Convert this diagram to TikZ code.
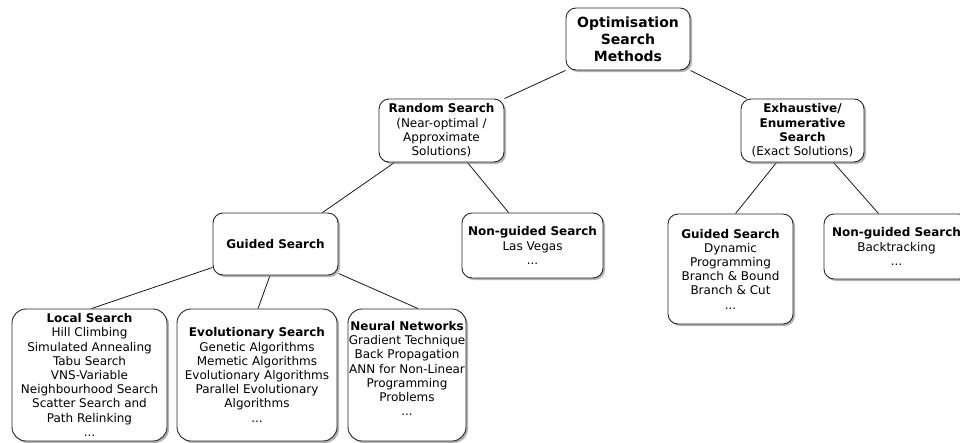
\documentclass[tikz,border=0pt]{standalone}
\usepackage{fontspec}
\setmainfont{DejaVu Sans}
\usetikzlibrary{shadows,calc,backgrounds}
\begin{document}
\begin{tikzpicture}[x=1pt,y=-1pt,
  box/.style={draw=black!85, line width=0.9pt, rounded corners=10pt, fill=white,
    align=center, inner sep=0pt, font=\fontsize{12}{14.2}\selectfont,
    drop shadow={shadow xshift=2pt, shadow yshift=-2pt, fill=black!50, opacity=0.6}},
  bigbox/.style={box, rounded corners=14pt},
  boxtext/.style={align=center, inner sep=0pt, font=\fontsize{12}{14.2}\selectfont},
  link/.style={draw=black!90, line width=0.8pt}]
\useasboundingbox (0,0) rectangle (960,442);

\node[box, minimum width=124pt, minimum height=62pt, font=\fontsize{14}{17}\selectfont\bfseries] (root) at (628,39) {Optimisation\\Search\\Methods};
\node[box, minimum width=125pt, minimum height=63pt] (rs) at (441.5,130.5) {\textbf{Random Search}\\(Near-optimal /\\Approximate\\Solutions)};
\node[box, minimum width=123pt, minimum height=63pt] (exh) at (802.5,130.5) {\textbf{Exhaustive/}\\\textbf{Enumerative}\\\textbf{Search}\\(Exact Solutions)};
\node[box, minimum width=125pt, minimum height=62pt] (gl) at (275.5,244) {\textbf{Guided Search}};
\node[box, minimum width=141pt, minimum height=65pt] (lv) at (532.5,245.5) {\textbf{Non-guided Search}\\Las Vegas\\...};
\node[box, minimum width=125pt, minimum height=110pt] (gr) at (730.5,269) {\textbf{Guided Search}\\Dynamic\\Programming\\Branch \& Bound\\Branch \& Cut\\...};
\node[box, minimum width=145pt, minimum height=65pt] (ng) at (896.5,246.5) {\textbf{Non-guided Search}\\Backtracking\\...};
\node[bigbox, minimum width=155pt, minimum height=132pt] (ls) at (89.5,375) {\textbf{Local Search}\\Hill Climbing\\Simulated Annealing\\Tabu Search\\VNS-Variable\\Neighbourhood Search\\Scatter Search and\\Path Relinking\\...};
\node[bigbox, minimum width=160pt, minimum height=132pt] (ev) at (257,375) {\textbf{Evolutionary Search}\\Genetic Algorithms\\Memetic Algorithms\\Evolutionary Algorithms\\Parallel Evolutionary\\Algorithms\\...};
\node[bigbox, minimum width=118pt, minimum height=132pt] (nn) at (407,375) {};
\node[boxtext] (nnt) at (407,368.5) {\textbf{Neural Networks}\\Gradient Technique\\Back Propagation\\ANN for Non-Linear\\Programming\\Problems\\...};

\begin{scope}[on background layer]
\draw[link] (root.south west) -- (rs.north east);
\draw[link] (root.south east) -- ($(exh.north west)+(6,0)$);
\draw[link] ($(rs.south west)+(16,0)$) -- ($(gl.north east)+(-16,0)$);
\draw[link] ($(rs.south east)+(-37,0)$) -- ($(lv.north west)+(47,0)$);
\draw[link] ($(exh.south west)+(36,0)$) -- ($(gr.north west)+(68,0)$);
\draw[link] ($(exh.south east)+(-31,0)$) -- ($(ng.north west)+(55,0)$);
\draw[link] ($(gl.south west)+(0,-8)$) -- ($(ls.north)+(2,0)$);
\draw[link] ($(gl.south)+(-5.5,0)$) -- ($(ev.north)+(1,0)$);
\draw[link] ($(gl.south east)+(0,-2)$) -- ($(nn.north)+(11,0)$);
\end{scope}
\end{tikzpicture}
\end{document}
